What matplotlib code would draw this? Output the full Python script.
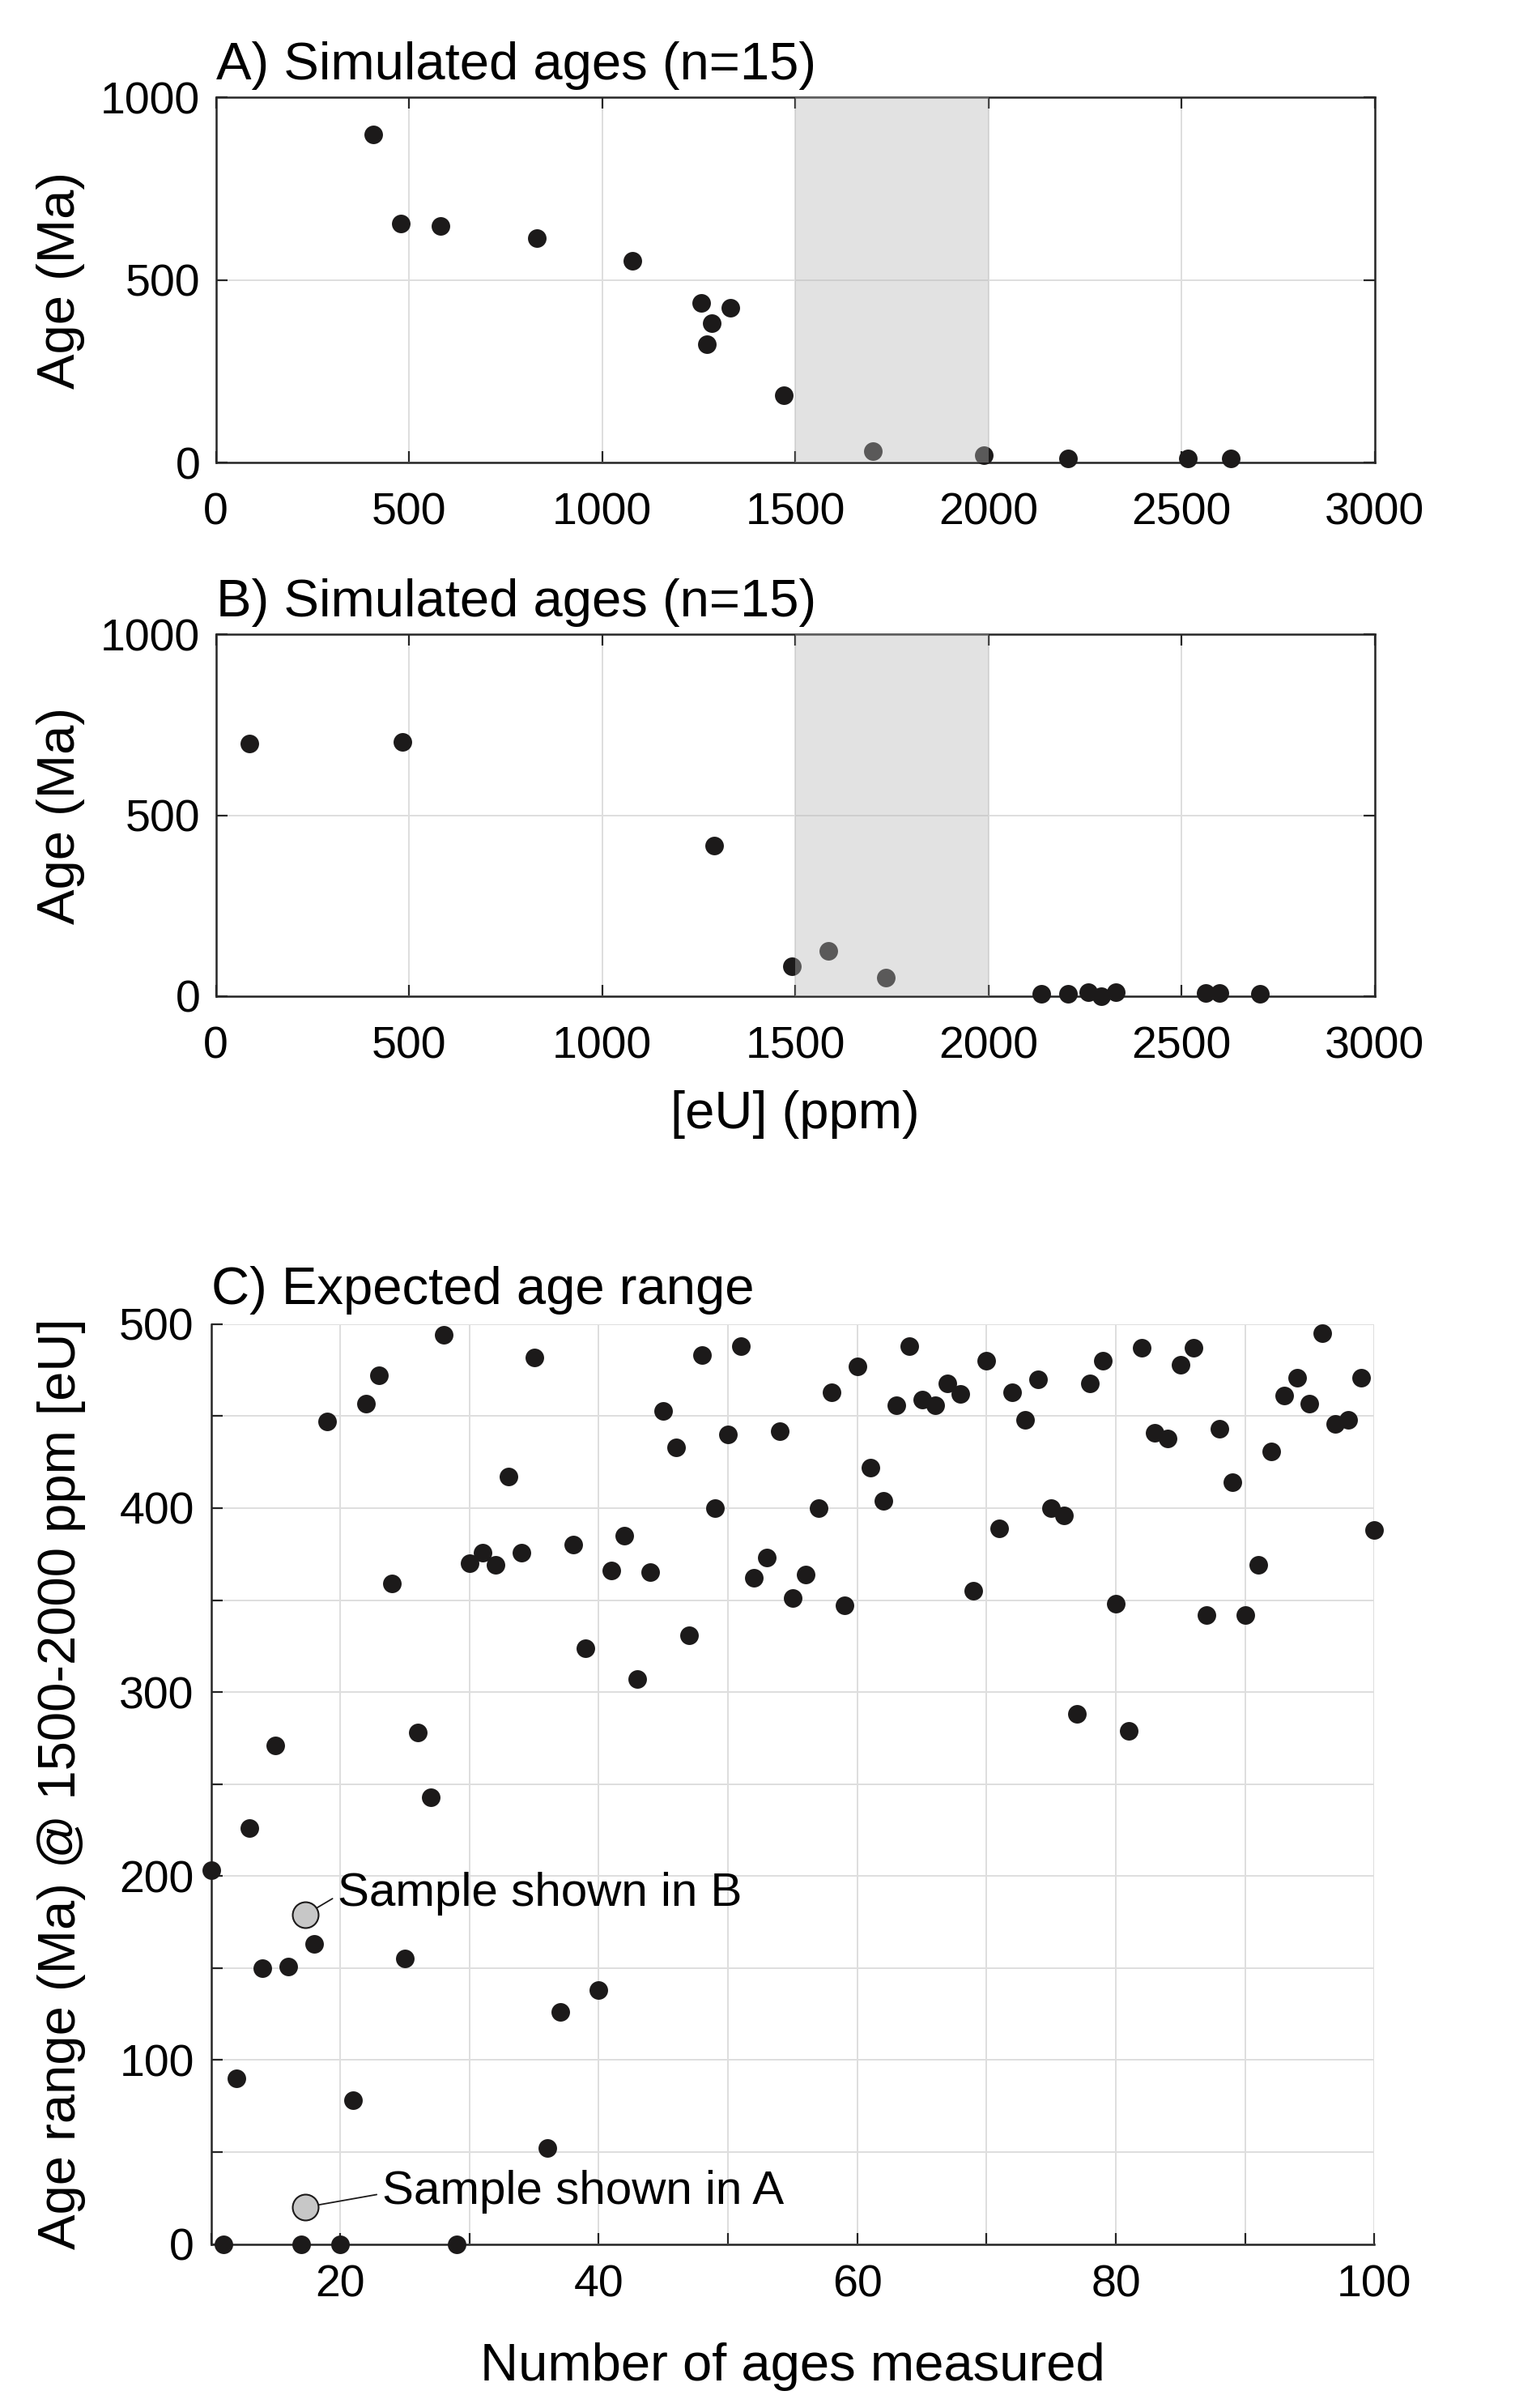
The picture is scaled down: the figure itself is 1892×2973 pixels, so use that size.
import numpy as np
import matplotlib
matplotlib.use("Agg")
import matplotlib.pyplot as plt

plt.rcParams['font.family'] = ['Liberation Sans', 'DejaVu Sans']

# panel A: simulated sample (n=15)
a_eu = [407, 478, 582, 832, 1078, 1257, 1331, 1283, 1272, 1470, 1702, 1988, 2206, 2517, 2628]
a_age = [898, 655, 648, 616, 554, 438, 424, 383, 325, 185, 31, 20, 12, 13, 12]

# panel B: simulated sample (n=15)
b_eu = [86, 483, 1290, 1492, 1586, 1735, 2136, 2206, 2258, 2293, 2329, 2562, 2598, 2702]
b_age = [699, 702, 417, 82, 126, 51, 7, 7, 10, 0, 12, 8, 8, 7]

# panel C: age range vs number of ages
n_ages = list(range(10, 101))
age_range = [203, 0, 90, 226, 150, 271, 151, 0, 163, 447,
             0, 78, 457, 472, 359, 155, 278, 243, 494, 0,
             370, 376, 369, 417, 376, 482, 52, 126, 380, 324,
             138, 366, 385, 307, 365, 453, 433, 331, 483, 400,
             440, 488, 362, 373, 442, 351, 364, 400, 463, 347,
             477, 422, 404, 456, 488, 459, 456, 468, 462, 355,
             480, 389, 463, 448, 470, 400, 396, 288, 468, 480,
             348, 279, 487, 441, 438, 478, 487, 342, 443, 414,
             342, 369, 431, 461, 471, 457, 495, 446, 448, 471,
             388]

sample_n = [17.3, 17.3]
sample_range = [179, 20]
sample_text = ["Sample shown in B", "Sample shown in A"]
sample_text_pos = [(19.8, 184), (23.25, 22)]

window = (1500, 2000)

eu_ticks = [0, 500, 1000, 1500, 2000, 2500, 3000]
age_ticks = [0, 500, 1000]
c_xticks = [10, 20, 30, 40, 50, 60, 70, 80, 90, 100]
c_xlabels = ['', '20', '', '40', '', '60', '', '80', '', '100']
c_yticks = [0, 50, 100, 150, 200, 250, 300, 350, 400, 450, 500]
c_ylabels = ['0', '', '100', '', '200', '', '300', '', '400', '', '500']

dot = (0.11, 0.10, 0.10)
axcol = (0.15, 0.15, 0.15)
gridcol = (0.87, 0.87, 0.87)
TICK = 40
LAB = 47

fig = plt.figure(figsize=(18.92, 29.73), dpi=100)


def style(ax, box=True):
    for s in ax.spines.values():
        s.set_linewidth(1.8)
        s.set_color(axcol)
    ax.grid(True, color=gridcol, linewidth=1.4)
    ax.set_axisbelow(True)
    ax.tick_params(direction='in', length=10, width=1.6, color=axcol,
                   labelsize=TICK, top=box, right=box)
    if not box:
        ax.spines['top'].set_visible(False)
        ax.spines['right'].set_visible(False)


def panel(rect, eu, age, title, xlabel=None):
    ax = fig.add_axes(rect)
    style(ax)
    ax.plot(eu, age, 'o', color=dot, ms=16.5, mew=0, clip_on=False, zorder=3)
    ax.axvspan(window[0], window[1], color=(0.72, 0.72, 0.72), alpha=0.4,
               lw=0, zorder=4)
    ax.set_xlim(0, 3000)
    ax.set_ylim(0, 1000)
    ax.set_xticks(eu_ticks)
    ax.set_yticks(age_ticks)
    ax.tick_params(axis='x', pad=26)
    ax.tick_params(axis='y', pad=14)
    ax.set_ylabel('Age (Ma)', fontsize=LAB, labelpad=14)
    ax.set_title(title, loc='left', fontsize=LAB, pad=16)
    if xlabel:
        ax.set_xlabel(xlabel, fontsize=LAB, labelpad=20)
    return ax


panel([0.1409, 0.8078, 0.7564, 0.1517], a_eu, a_age, 'A) Simulated ages (n=15)')
panel([0.1409, 0.5863, 0.7564, 0.1503], b_eu, b_age, 'B) Simulated ages (n=15)',
      xlabel='[eU] (ppm)')

ax = fig.add_axes([0.1377, 0.0681, 0.7594, 0.382])
style(ax, box=False)
ax.plot(n_ages, age_range, 'o', color=dot, ms=16.5, mew=0, clip_on=False, zorder=3)
ax.plot(sample_n, sample_range, 'o', mfc=(0.78, 0.78, 0.78), mec=dot, mew=1.5,
        ms=23, clip_on=False, zorder=4)
for txt, (tx, ty), sx, sy in zip(sample_text, sample_text_pos, sample_n, sample_range):
    ax.annotate(txt, xy=(sx, sy), xytext=(tx, ty), fontsize=42, va='baseline',
                arrowprops=dict(arrowstyle='-', color=dot, lw=1.3,
                                shrinkA=3, shrinkB=12, relpos=(0, 0.45)))
ax.set_xlim(10, 100)
ax.set_ylim(0, 500)
ax.set_xticks(c_xticks)
ax.set_xticklabels(c_xlabels)
ax.set_yticks(c_yticks)
ax.set_yticklabels(c_ylabels)
ax.tick_params(axis='x', pad=18)
ax.tick_params(axis='y', pad=15)
ax.set_xlabel('Number of ages measured', fontsize=LAB, labelpad=32)
ax.set_ylabel('Age range (Ma) @ 1500-2000 ppm [eU]', fontsize=LAB, labelpad=30)
ax.set_title('C) Expected age range', loc='left', fontsize=LAB, pad=18)

fig.savefig('out.png', dpi=100, facecolor='white')
